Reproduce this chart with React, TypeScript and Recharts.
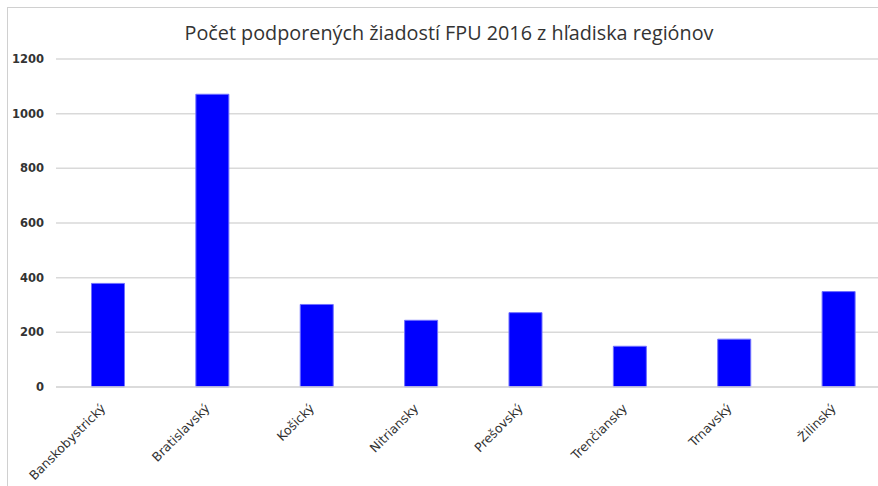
import { BarChart, Bar, XAxis, YAxis, CartesianGrid } from 'recharts'

const regions = ['Banskobystrický', 'Bratislavský', 'Košický', 'Nitriansky', 'Prešovský', 'Trenčiansky', 'Trnavský', 'Žilinský']
const counts = [379, 1071, 302, 244, 272, 149, 175, 349]
const yTicks = [0, 200, 400, 600, 800, 1000, 1200]

const data = regions.map((name, i) => ({ name, value: counts[i] }))

function RegionTick({ x, y, payload }: any) {
  return (
    <g transform={`translate(${x - 2},${y + 14})`}>
      <text
        textAnchor="end"
        transform="rotate(-45)"
        fontSize={12.5}
        fontFamily="DejaVu Sans"
        fill="#333"
      >
        {payload.value}
      </text>
    </g>
  )
}

export default function App() {
  return (
    <div style={{ position: 'absolute', left: 0, top: 0, width: 878, height: 486, overflow: 'hidden', background: '#fff' }}>
      <div
        style={{
          position: 'absolute',
          left: 7,
          top: 7,
          width: 900,
          height: 500,
          border: '1px solid #d0d0d0',
        }}
      >
        <div
          style={{
            position: 'absolute',
            left: 2,
            top: 11,
            width: 878,
            textAlign: 'center',
            fontFamily: 'Open Sans',
            fontSize: 19.8,
            color: '#333',
          }}
        >
          Počet podporených žiadostí FPU 2016 z hľadiska regiónov
        </div>
        <BarChart
          width={893}
          height={478}
          data={data}
          margin={{ top: 51, right: 10, bottom: 0, left: 0 }}
          barCategoryGap="34%"
        >
          <CartesianGrid vertical={false} stroke="#d9d9d9" strokeWidth={1.5} />
          <XAxis
            dataKey="name"
            height={99}
            interval={0}
            tickLine={false}
            axisLine={{ stroke: '#d9d9d9', strokeWidth: 1.5 }}
            tick={<RegionTick />}
          />
          <YAxis
            width={48}
            domain={[0, 1200]}
            ticks={yTicks}
            axisLine={false}
            tickLine={false}
            tickMargin={6}
            tick={{ fontSize: 11.5, fontFamily: 'DejaVu Sans', fontWeight: 'bold', fill: '#333' }}
          />
          <Bar dataKey="value" fill="#0000ff" stroke="#7070ff" strokeWidth={1} isAnimationActive={false} />
        </BarChart>
      </div>
    </div>
  )
}
